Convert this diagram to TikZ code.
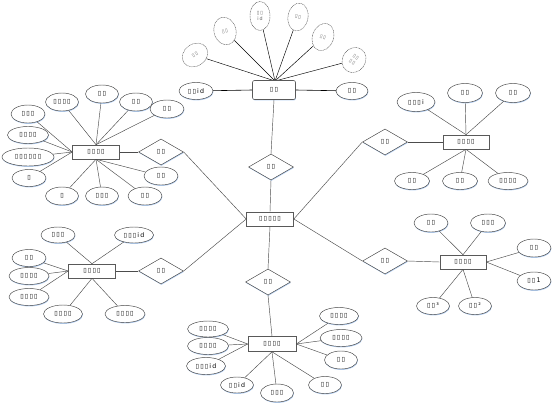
\documentclass[tikz,border=0pt]{standalone}
\usepackage{fontspec}
\setmainfont{DejaVu Sans}[LetterSpace=18]
\usetikzlibrary{shapes.geometric,shadows}
\definecolor{shadowblue}{RGB}{160,195,240}
\begin{document}
\begin{tikzpicture}[x=1pt,y=-1pt,
  font=\fontsize{6.3}{7}\selectfont,
  sh/.style={drop shadow={shadow xshift=0.4pt,shadow yshift=-0.9pt,fill=shadowblue,opacity=0.8}},
  ln/.style={draw=black!70,line width=0.45pt},
  attr/.style 2 args={ellipse,draw=black!75,line width=0.45pt,fill=white,inner sep=0pt,minimum width=#1pt,minimum height=#2pt,sh},
  tilt/.style 2 args={ellipse,draw=black!60,dashed,dash pattern=on 1pt off 0.6pt,line width=0.45pt,fill=white,inner sep=0pt,minimum width=#1pt,minimum height=#2pt,text=black!60,font=\fontsize{4.8}{6.2}\selectfont,align=center},
  ent/.style 2 args={rectangle,draw=black!65,line width=0.6pt,fill=white,inner sep=0pt,minimum width=#1pt,minimum height=#2pt,sh},
  rel/.style={diamond,draw=black!75,line width=0.45pt,fill=white,inner sep=0pt,minimum width=45pt,minimum height=26pt,sh}]
\fill[white] (0,0) rectangle (553,407);
\useasboundingbox (0,0) rectangle (553,407);

% ---------- central ----------
\node[ent={47}{14}] (C) at (270,219) {▯▯▯▯▯};

% ---------- top entity ----------
\coordinate (tC) at (275,81);
\node[tilt={27}{22},rotate=35] (t3) at (195,55) {▯▯};
\node[tilt={22}{28},rotate=15] (t4) at (225,31) {▯▯};
\node[tilt={20}{29}] (t5) at (260,16) {▯▯\\id};
\node[tilt={20}{28},rotate=-10] (t6) at (298,17) {▯▯};
\node[tilt={21}{28},rotate=-20] (t7) at (323,37) {▯▯};
\node[tilt={23}{26},rotate=-35] (t8) at (354,60) {▯▯\\▯▯};
\foreach \n in {t3,t4,t5,t6,t7,t8} \draw[ln,draw=black] (\n) -- (tC);
\node[ent={43}{19},rounded corners=2pt] (tE) at (274,90) {▯▯};
\node[attr={34}{17}] (t1) at (196,91) {▯▯id};
\node[attr={32}{17}] (t2) at (352,91) {▯▯};
\draw[ln,draw=black,line width=0.6pt] (t1) -- (tE.west);
\draw[ln,draw=black,line width=0.6pt] (tE.east) -- (t2);

% ---------- relations ----------
\node[rel] (R6) at (271,167) {▯▯};
\node[rel] (R5) at (268,282) {▯▯};
\node[rel] (R1) at (161,152) {▯▯};
\node[rel] (R2) at (161,271) {▯▯};
\node[rel] (R3) at (385,142) {▯▯};
\node[rel] (R4) at (385,261) {▯▯};
\draw[ln] (tE.south) -- (R6.north);
\draw[ln] (R6.south) -- (C.north);
\draw[ln] (C.south) -- (R5.north);
\draw[ln] (R1.east) -- (C.west);
\draw[ln] (R2.east) -- (C.west);
\draw[ln] (R3.west) -- (C.east);
\draw[ln] (R4.west) -- (C.east);

% ---------- left entity 1 ----------
\node[ent={47}{14}] (L1) at (96,152) {▯▯▯▯};
\draw[ln] (L1.east) -- (R1.west);
\node[attr={33}{18}] (a1) at (62,102) {▯▯▯▯};
\node[attr={33}{18}] (a2) at (102,94) {▯▯};
\node[attr={33}{18}] (a3) at (136,102) {▯▯};
\node[attr={34}{18}] (a4) at (167,109) {▯▯};
\node[attr={34}{18}] (a5) at (28,114) {▯▯▯};
\node[attr={41}{17}] (a6) at (28,135) {▯▯▯▯};
\node[attr={52}{18}] (a7) at (28,157) {▯▯▯▯▯▯};
\node[attr={34}{17}] (a8) at (29,178) {▯};
\node[attr={33}{18}] (a9) at (62,196) {▯};
\node[attr={33}{18}] (a10) at (102,196) {▯▯▯};
\node[attr={34}{18}] (a11) at (145,196) {▯▯};
\node[attr={34}{18}] (a12) at (161,176) {▯▯};
\foreach \n in {a1,a2,a3,a4} \draw[ln] (\n) -- (L1.north);
\foreach \n in {a5,a6,a7,a8} \draw[ln] (\n) -- (L1.west);
\foreach \n in {a9,a10,a11,a12} \draw[ln] (\n) -- (L1.south);

% ---------- left entity 2 ----------
\node[ent={47}{14}] (L2) at (92,271) {▯▯▯▯};
\draw[ln] (L2.east) -- (R2.west);
\node[attr={34}{16}] (b1) at (58,235) {▯▯▯};
\node[attr={39}{16}] (b2) at (134,235) {▯▯▯id};
\node[attr={34}{17}] (b3) at (29,258) {▯▯};
\node[attr={40}{17}] (b4) at (29,276) {▯▯▯▯};
\node[attr={40}{17}] (b5) at (29,297) {▯▯▯▯};
\node[attr={39}{18}] (b6) at (63,314) {▯▯▯▯};
\node[attr={40}{17}] (b7) at (125,314) {▯▯▯▯};
\foreach \n in {b1,b2} \draw[ln] (\n) -- (L2.north);
\foreach \n in {b3,b4,b5} \draw[ln] (\n) -- (L2.west);
\foreach \n in {b6,b7} \draw[ln] (\n) -- (L2.south);

% ---------- right entity 1 ----------
\node[ent={46}{14}] (E1) at (466,142) {▯▯▯▯};
\draw[ln] (R3.east) -- (E1.west);
\node[attr={38}{19}] (c1) at (416,102) {▯▯▯i};
\node[attr={35}{19}] (c2) at (465,93) {▯▯};
\node[attr={35}{19}] (c3) at (513,93) {▯▯};
\node[attr={35}{17}] (c4) at (412,181) {▯▯};
\node[attr={35}{17}] (c5) at (460,181) {▯▯};
\node[attr={40}{17}] (c6) at (508,181) {▯▯▯▯};
\foreach \n in {c1,c2,c3} \draw[ln] (\n) -- (E1.north);
\foreach \n in {c4,c5,c6} \draw[ln] (\n) -- (E1.south);

% ---------- right entity 2 ----------
\node[ent={46}{14}] (E2) at (463,262) {▯▯▯▯};
\draw[ln] (R4.east) -- (E2.west);
\node[attr={34}{18}] (d1) at (431,223) {▯▯};
\node[attr={35}{18}] (d2) at (488,223) {▯▯▯};
\node[attr={34}{18}] (d3) at (534,248) {▯▯};
\node[attr={34}{18}] (d4) at (534,281) {▯▯1};
\node[attr={33}{17}] (d5) at (433,306) {▯▯³};
\node[attr={33}{17}] (d6) at (475,306) {▯▯²};
\foreach \n in {d1,d2} \draw[ln] (\n) -- (E2.north);
\foreach \n in {d3,d4} \draw[ln] (\n) -- (E2.east);
\foreach \n in {d5,d6} \draw[ln] (\n) -- (E2.south);

% ---------- bottom entity ----------
\node[ent={48}{15}] (B) at (272,344) {▯▯▯▯};
\draw[ln] (R5.south) -- (B.north);
\node[attr={41}{16}] (e1) at (208,329) {▯▯▯▯};
\node[attr={41}{17}] (e2) at (208,346) {▯▯▯▯};
\node[attr={39}{17}] (e3) at (206,366) {▯▯▯id};
\node[attr={33}{16}] (e4) at (237,385) {▯▯id};
\node[attr={33}{18}] (e5) at (277,393) {▯▯▯};
\node[attr={33}{17}] (e6) at (325,385) {▯▯};
\node[attr={39}{17}] (f1) at (339,316) {▯▯▯▯};
\node[attr={42}{17}] (f2) at (341,338) {▯▯▯▯};
\node[attr={33}{18}] (f3) at (341,360) {▯▯};
\foreach \n in {e1,e2,e3} \draw[ln] (\n) -- (B.west);
\foreach \n in {e4,e5,e6} \draw[ln] (\n) -- (B.south);
\foreach \n in {f1,f2,f3} \draw[ln] (\n) -- (B.east);
\end{tikzpicture}
\end{document}
